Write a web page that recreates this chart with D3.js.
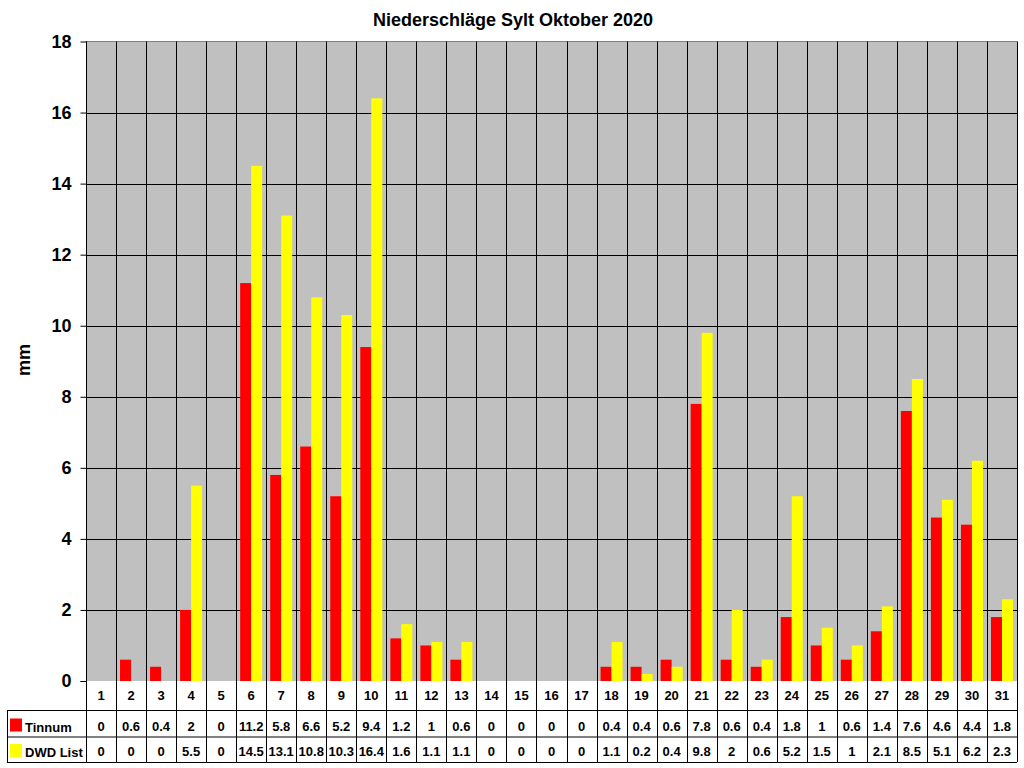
<!DOCTYPE html>
<html><head><meta charset="utf-8">
<script src="https://cdn.jsdelivr.net/npm/d3@7"></script>
<style>body{margin:0;background:#fff;} svg{display:block;font-family:"Liberation Sans",Arial,sans-serif;}</style>
</head><body>
<svg id="c" width="1024" height="768"></svg>
<script>
const days = d3.range(1, 32).map(String);
const tinnum = [0,0.6,0.4,2,0,11.2,5.8,6.6,5.2,9.4,1.2,1,0.6,0,0,0,0,0.4,0.4,0.6,7.8,0.6,0.4,1.8,1,0.6,1.4,7.6,4.6,4.4,1.8];
const dwd = [0,0,0,5.5,0,14.5,13.1,10.8,10.3,16.4,1.6,1.1,1.1,0,0,0,0,1.1,0.2,0.4,9.8,2,0.6,5.2,1.5,1,2.1,8.5,5.1,6.2,2.3];
const seriesNames = ["Tinnum", "DWD List"];
const seriesColors = ["#FF0000", "#FFFF00"];
const yTicks = [0,2,4,6,8,10,12,14,16,18];
const title = "Niederschläge Sylt Oktober 2020";
const yLabel = "mm";

const svg = d3.select("#c");
const L = 86, R = 1017, T = 41.5, B = 681;
const x = d3.scaleBand().domain(days).range([L, R]).padding(0);
const bw = x.bandwidth();
const xs = d3.scaleBand().domain(seriesNames).range([4, bw - 4]).padding(0);
const y = d3.scaleLinear().domain([0, 18]).range([B, T]);

svg.append("rect").attr("x", L).attr("y", T).attr("width", R - L).attr("height", B - T).attr("fill", "#C0C0C0");

svg.append("g").selectAll("line").data(yTicks.filter(d => d > 0 && d < 18)).join("line")
  .attr("x1", L).attr("x2", R).attr("y1", d => Math.round(y(d)) + 0.5).attr("y2", d => Math.round(y(d)) + 0.5)
  .attr("stroke", "#000").attr("stroke-width", 1);

const series = [tinnum, dwd];
series.forEach((vals, si) => {
  svg.append("g").selectAll("rect").data(vals.map((v, i) => ({day: days[i], v}))).join("rect")
    .attr("x", d => x(d.day) + xs(seriesNames[si]))
    .attr("width", xs.bandwidth())
    .attr("y", d => y(d.v))
    .attr("height", d => B - y(d.v))
    .attr("fill", seriesColors[si]);
});

svg.append("line").attr("x1", L).attr("x2", R).attr("y1", T).attr("y2", T).attr("stroke", "#808080");

const r1 = 710, r2 = 736.5, r3 = 762;
const bounds = days.map(d => x(d)).concat([R]);
svg.append("g").selectAll("line").data(bounds).join("line")
  .attr("x1", d => Math.round(d) + 0.5).attr("x2", d => Math.round(d) + 0.5)
  .attr("y1", T).attr("y2", r3)
  .attr("stroke", "#000");
[r1, r2, r3].forEach(r => svg.append("line").attr("x1", 7).attr("x2", R).attr("y1", r + 0.5).attr("y2", r + 0.5).attr("stroke", "#000"));
svg.append("line").attr("x1", 7.5).attr("x2", 7.5).attr("y1", r1).attr("y2", r3 + 1).attr("stroke", "#000");

const yAxis = svg.append("g").attr("transform", `translate(${L + 0.5},0)`)
  .call(d3.axisLeft(y).tickValues(yTicks).tickSize(6).tickPadding(9).tickFormat(d3.format("d")));
yAxis.select(".domain").attr("stroke", "#000").attr("d", `M-6,${Math.round(y(0))+0.5}H0V${T}`);
yAxis.selectAll(".tick line").attr("stroke", "#000");
yAxis.selectAll(".tick text").attr("font-size", 18).attr("font-weight", "bold").attr("fill", "#000")
  .attr("font-family", "Liberation Sans, Arial, sans-serif");

svg.append("g").selectAll("text").data(days).join("text")
  .attr("x", d => x(d) + bw / 2).attr("y", 700).attr("text-anchor", "middle")
  .attr("font-size", 13).attr("font-weight", "bold").text(d => d);

const rowBase = [730.5, 756];
series.forEach((vals, si) => {
  svg.append("g").selectAll("text").data(vals).join("text")
    .attr("x", (d, i) => x(days[i]) + bw / 2).attr("y", rowBase[si]).attr("text-anchor", "middle")
    .attr("font-size", 13).attr("font-weight", "bold").text(d => String(d));
  svg.append("rect").attr("x", 10).attr("y", rowBase[si] - 12).attr("width", 12).attr("height", 13)
    .attr("fill", seriesColors[si]);
  svg.append("text").attr("x", 25).attr("y", rowBase[si] + 1).attr("font-size", 13).attr("font-weight", "bold")
    .text(seriesNames[si]);
});

svg.append("text").attr("x", 513).attr("y", 26).attr("text-anchor", "middle")
  .attr("font-size", 18).attr("font-weight", "bold").text(title);
svg.append("text").attr("transform", "translate(30,360) rotate(-90)").attr("text-anchor", "middle")
  .attr("font-size", 18).attr("font-weight", "bold").text(yLabel);
</script>
</body></html>
